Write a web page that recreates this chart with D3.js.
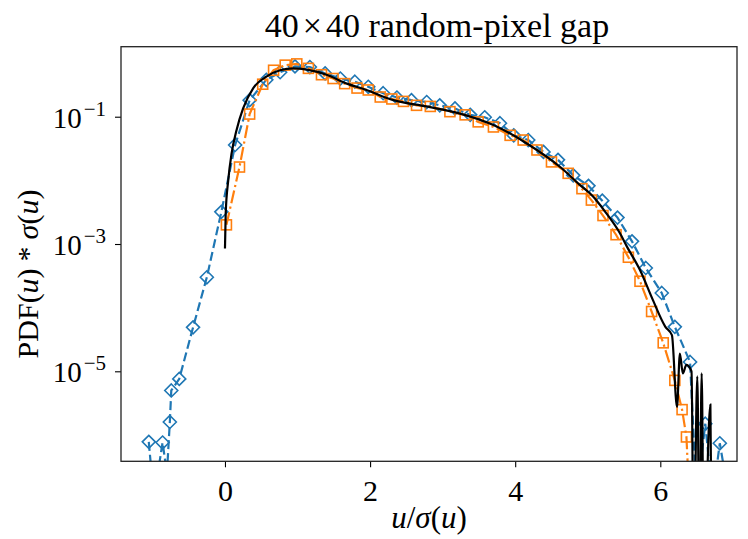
<!DOCTYPE html>
<html><head><meta charset="utf-8">
<script src="https://cdn.jsdelivr.net/npm/d3@7"></script>
<style>
body{margin:0;background:#fff;}
svg text{font-family:"Liberation Serif","Times New Roman",serif;fill:#000;}
</style>
</head><body>
<svg id="chart" width="748" height="539"></svg>
<script>
// ---- data ----
const blueX = [-1.05,-0.98,-0.86,-0.80,-0.76,-0.74,-0.63,-0.44,-0.25,-0.05,0.14,0.34,0.57,0.76,0.965,1.17,1.38,1.59,1.79,1.975,2.18,2.37,2.57,2.78,2.96,3.17,3.38,3.58,3.79,3.98,4.18,4.39,4.59,4.80,5.01,5.20,5.41,5.61,5.80,6.02,6.20,6.41,6.50,6.62,6.72,6.82,6.95];
const blueY = [7.8e-7,1e-7,7.6e-7,2.5e-7,1.6e-6,5.0e-6,7.6e-6,4.9e-5,3.0e-4,3.2e-3,0.036,0.182,0.38,0.50,0.617,0.603,0.479,0.398,0.355,0.295,0.234,0.200,0.182,0.170,0.151,0.135,0.107,0.098,0.079,0.051,0.043,0.028,0.021,0.012,0.0082,0.0048,0.0026,0.0011,4.2e-4,1.7e-4,5.0e-5,1.4e-5,1e-7,1.5e-6,1e-7,7.4e-7,1e-7];

const orangeX = [0.02,0.20,0.34,0.52,0.67,0.83,0.99,1.15,1.33,1.49,1.65,1.82,1.975,2.14,2.30,2.46,2.64,2.83,3.10,3.31,3.49,3.70,3.93,4.11,4.30,4.50,4.73,4.92,5.05,5.21,5.39,5.56,5.72,5.88,6.04,6.20,6.30,6.36,6.40];
const orangeY = [0.0020,0.0162,0.110,0.324,0.537,0.646,0.676,0.575,0.457,0.398,0.331,0.282,0.263,0.204,0.190,0.174,0.151,0.145,0.120,0.107,0.083,0.069,0.051,0.043,0.030,0.0195,0.0129,0.0074,0.0049,0.0028,0.0014,6.2e-4,2.6e-4,8.7e-5,2.8e-5,7.2e-6,2.5e-6,9.3e-7,1e-7];

const blackX = [0.0,0.01,0.045,0.09,0.16,0.25,0.39,0.57,0.76,0.94,1.13,1.40,1.68,1.95,2.32,2.78,3.24,3.70,4.16,4.62,4.89,5.08,5.26,5.44,5.54,5.72,5.90,6.07,6.16,6.23,6.27,6.31,6.36,6.43,6.46,6.51,6.54,6.57,6.60,6.69,6.71];
const blackY = [8.5e-4,3e-3,0.010,0.026,0.062,0.135,0.282,0.427,0.537,0.575,0.550,0.457,0.331,0.263,0.182,0.145,0.112,0.074,0.038,0.0162,0.0085,0.0055,0.0030,0.0015,9.1e-4,3.9e-4,1.3e-4,5.0e-5,3.7e-5,2.75e-6,1.9e-5,9.3e-6,1.26e-5,1e-5,1e-8,8.3e-6,1e-8,9.3e-6,1e-8,3.0e-6,1e-8];

const xTicks = [0,2,4,6];
const yTicks = [1e-1,1e-3,1e-5];
const yTickExp = ["\u22121","\u22123","\u22125"];
const titleText = "random-pixel gap";

// ---- layout ----
const L = 121, R = 737, T = 46.7, B = 461.3;
const svg = d3.select("#chart");

const x = d3.scaleLinear().domain([-1.433, 7.057]).range([L, R]);
const y = d3.scaleLog().domain([Math.pow(10,-6.414), Math.pow(10,0.10)]).range([B, T]);

svg.append("defs").append("clipPath").attr("id","clip")
  .append("rect").attr("x",L).attr("y",T).attr("width",R-L).attr("height",B-T);

const blue = "#1f77b4", orange = "#ff7f0e";
const zip = (xs, ys) => xs.map((v,i)=>({x:v,y:ys[i]}));
const blueData = zip(blueX, blueY), orangeData = zip(orangeX, orangeY), blackData = zip(blackX, blackY);

const g = svg.append("g").attr("clip-path","url(#clip)");
const line = d3.line().x(d=>x(d.x)).y(d=>y(d.y));

g.append("path").datum(blueData).attr("d", line)
  .attr("fill","none").attr("stroke",blue).attr("stroke-width",2.2).attr("stroke-dasharray","9,4");
g.selectAll("path.dm").data(blueData.filter(d=>d.y>y.domain()[0])).enter().append("path")
  .attr("class","dm")
  .attr("d", d=>{const cx=x(d.x), cy=y(d.y), r=6.5; return `M${cx},${cy-r}L${cx+r},${cy}L${cx},${cy+r}L${cx-r},${cy}Z`;})
  .attr("fill","none").attr("stroke",blue).attr("stroke-width",1.6);

g.append("path").datum(orangeData).attr("d", line)
  .attr("fill","none").attr("stroke",orange).attr("stroke-width",2.2).attr("stroke-dasharray","13,3.5,2.2,3.5");
g.selectAll("rect.sq").data(orangeData.filter(d=>d.y>y.domain()[0])).enter().append("rect")
  .attr("class","sq")
  .attr("x", d=>x(d.x)-5).attr("y", d=>y(d.y)-5).attr("width",10).attr("height",10)
  .attr("fill","none").attr("stroke",orange).attr("stroke-width",1.6);

g.append("path").datum(blackData).attr("d", d3.line().x(d=>x(d.x)).y(d=>y(d.y)).curve(d3.curveMonotoneX))
  .attr("fill","none").attr("stroke","#000").attr("stroke-width",2.2);

// ---- axes ----
const xAxis = svg.append("g").attr("transform",`translate(0,${B})`)
  .call(d3.axisBottom(x).tickValues(xTicks).tickSize(6).tickPadding(12).tickFormat(d3.format("d")));
xAxis.select(".domain").remove();
xAxis.selectAll("line").attr("stroke","#000").attr("stroke-width",1.1);
xAxis.selectAll("text").attr("font-size",30).attr("fill","#000")
  .style("font-family","'Liberation Serif',serif");

const yAxis = svg.append("g").attr("transform",`translate(${L},0)`)
  .call(d3.axisLeft(y).tickValues(yTicks).tickSize(6).tickFormat(""));
yAxis.select(".domain").remove();
yAxis.selectAll("line").attr("stroke","#000").attr("stroke-width",1.1);
yTicks.forEach((v,i)=>{
  const t = svg.append("text").attr("x", 106).attr("y", y(v)+11)
    .attr("text-anchor","end").attr("font-size",29);
  t.append("tspan").text("10");
  t.append("tspan").attr("dx",2).attr("dy",-12).attr("font-size",21).text(yTickExp[i]);
});

// frame
svg.append("rect").attr("x",L).attr("y",T).attr("width",R-L).attr("height",B-T)
  .attr("fill","none").attr("stroke","#222").attr("stroke-width",1.3);

// title
const tt = svg.append("text").attr("x",(L+R)/2+8).attr("y",37).attr("text-anchor","middle").attr("font-size",34);
tt.append("tspan").text("40");
tt.append("tspan").attr("dx",4).text("\u00d7");
tt.append("tspan").attr("dx",4).text("40 " + titleText);

// x label
const xl = svg.append("text").attr("x",(L+R)/2).attr("y",528).attr("text-anchor","middle").attr("font-size",31);
xl.append("tspan").attr("font-style","italic").text("u");
xl.append("tspan").text("/");
xl.append("tspan").attr("font-style","italic").text("\u03c3");
xl.append("tspan").text("(");
xl.append("tspan").attr("font-style","italic").text("u");
xl.append("tspan").text(")");

// y label
const yl = svg.append("text").attr("transform",`translate(38,274) rotate(-90)`)
  .attr("text-anchor","middle").attr("font-size",30);
yl.append("tspan").text("PDF(");
yl.append("tspan").attr("font-style","italic").text("u");
yl.append("tspan").text(")");
yl.append("tspan").attr("dx",7).text("*");
yl.append("tspan").attr("dx",7).attr("font-style","italic").text("\u03c3");
yl.append("tspan").text("(");
yl.append("tspan").attr("font-style","italic").text("u");
yl.append("tspan").text(")");
</script>
</body></html>
